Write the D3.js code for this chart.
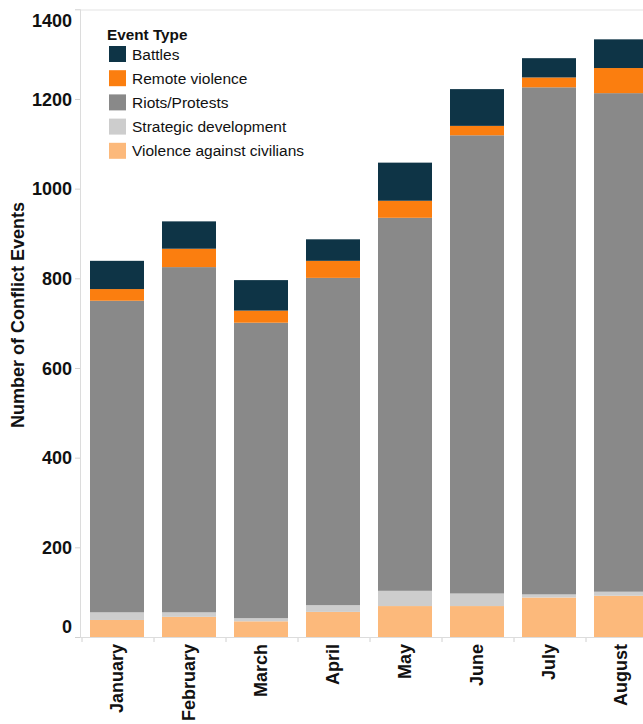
<!DOCTYPE html>
<html>
<head>
<meta charset="utf-8">
<script src="https://cdn.jsdelivr.net/npm/d3@7"></script>
<style>
  html, body { margin: 0; padding: 0; background: #fff; overflow: hidden; }
  svg { display: block; font-family: "Liberation Sans", Arial, sans-serif; }
</style>
</head>
<body>
<div id="chart"></div>
<script>
// months along the x axis
var months = ["January", "February", "March", "April", "May", "June", "July", "August"];

// event types, bottom of the stack first
var eventTypes = ["Violence against civilians", "Strategic development", "Riots/Protests", "Remote violence", "Battles"];
var legendOrder = ["Battles", "Remote violence", "Riots/Protests", "Strategic development", "Violence against civilians"];

// counts per month
var violenceCivilians = [38, 45, 35, 56, 69, 69, 88, 92];
var strategicDev      = [17, 10, 7, 15, 34, 28, 7, 9];
var riotsProtests     = [695, 770, 659, 730, 832, 1022, 1131, 1112];
var remoteViolence    = [26, 41, 27, 38, 38, 21, 22, 56];
var battles           = [63, 61, 68, 48, 85, 82, 43, 64];

var yTicks = [0, 200, 400, 600, 800, 1000, 1200, 1400];

var colors = {
  "Battles": "#0e3446",
  "Remote violence": "#fb7e0f",
  "Riots/Protests": "#898989",
  "Strategic development": "#cdcdcd",
  "Violence against civilians": "#fcb97b"
};

////////////////////////////////////////////////////////////////////////
// build table for d3.stack
////////////////////////////////////////////////////////////////////////
var table = months.map(function(m, i)
  {
  return {
    month: m,
    "Violence against civilians": violenceCivilians[i],
    "Strategic development": strategicDev[i],
    "Riots/Protests": riotsProtests[i],
    "Remote violence": remoteViolence[i],
    "Battles": battles[i]
  };
  });

var width = 643, height = 724;
var plotLeft = 80, plotBottom = 637, plotTop = 9.3;

var svg = d3.select("#chart")
  .append("svg")
  .attr("width", width)
  .attr("height", height);

var x = d3.scaleBand()
  .domain(months)
  .range([81, 81 + 72 * months.length])
  .paddingInner(0.25)
  .paddingOuter(0.125);

var y = d3.scaleLinear()
  .domain([0, 1400])
  .range([plotBottom, plotTop]);

// top border of the pane
svg.append("line")
  .attr("x1", plotLeft).attr("x2", width)
  .attr("y1", 10).attr("y2", 10)
  .attr("stroke", "#ececec").attr("stroke-width", 1.5);

// bars
var series = d3.stack().keys(eventTypes)(table);

svg.append("g")
  .selectAll("g")
  .data(series)
  .enter()
  .append("g")
  .attr("fill", function(d) { return colors[d.key]; })
  .selectAll("rect")
  .data(function(d) { return d; })
  .enter()
  .append("rect")
  .attr("x", function(d) { return x(d.data.month); })
  .attr("width", x.bandwidth())
  .attr("y", function(d) { return y(d[1]); })
  .attr("height", function(d) { return y(d[0]) - y(d[1]); });

// y axis
var yAxis = svg.append("g")
  .attr("transform", "translate(" + plotLeft + ",0)")
  .call(d3.axisLeft(y).tickValues(yTicks).tickSize(5).tickPadding(3).tickFormat(d3.format("d")));

yAxis.select(".domain").attr("stroke", "#dcdcdc").attr("d", "M0.5," + plotTop + "V" + plotBottom);
yAxis.selectAll(".tick line").attr("stroke", "#d0d0d0");
yAxis.selectAll(".tick text")
  .attr("fill", "#111")
  .style("font-size", "18px")
  .style("font-weight", "bold")
  .attr("dy", function(d)
    {
    // tableau keeps the end labels inside the pane
    if(d === 1400) return "0.95em";
    if(d === 0) return "-0.25em";
    return "0.34em";
    });

// x axis
var xAxis = svg.append("g")
  .attr("transform", "translate(0," + plotBottom + ")");

xAxis.append("line")
  .attr("x1", plotLeft).attr("x2", width)
  .attr("y1", 0.5).attr("y2", 0.5)
  .attr("stroke", "#dcdcdc");

xAxis.selectAll(".sep")
  .data(months)
  .enter()
  .append("line")
  .attr("class", "sep")
  .attr("x1", function(d) { return x(d) - x.step() * x.paddingInner() / 2 + 1; })
  .attr("x2", function(d) { return x(d) - x.step() * x.paddingInner() / 2 + 1; })
  .attr("y1", 1).attr("y2", 5)
  .attr("stroke", "#d0d0d0");

xAxis.selectAll(".mlabel")
  .data(months)
  .enter()
  .append("text")
  .attr("class", "mlabel")
  .attr("transform", function(d) { return "translate(" + (x(d) + x.bandwidth() / 2) + ",7) rotate(-90)"; })
  .attr("text-anchor", "end")
  .attr("dy", "0.36em")
  .attr("fill", "#111")
  .style("font-size", "18px")
  .style("font-weight", "bold")
  .text(function(d) { return d; });

// y axis title
svg.append("text")
  .attr("transform", "translate(18,315) rotate(-90)")
  .attr("text-anchor", "middle")
  .attr("dy", "0.36em")
  .attr("fill", "#111")
  .style("font-size", "18px")
  .style("font-weight", "bold")
  .text("Number of Conflict Events");

// legend
var legend = svg.append("g").attr("transform", "translate(107,0)");

legend.append("text")
  .attr("x", 0).attr("y", 40)
  .attr("fill", "#111")
  .style("font-size", "15.3px")
  .style("font-weight", "bold")
  .text("Event Type");

var rows = legend.selectAll(".row")
  .data(legendOrder)
  .enter()
  .append("g")
  .attr("class", "row")
  .attr("transform", function(d, i) { return "translate(0," + (46 + i * 24.2) + ")"; });

rows.append("rect")
  .attr("x", 2).attr("y", 0)
  .attr("width", 17).attr("height", 16)
  .attr("fill", function(d) { return colors[d]; });

rows.append("text")
  .attr("x", 25).attr("y", 8)
  .attr("dy", "0.36em")
  .attr("fill", "#111")
  .style("font-size", "15.5px")
  .text(function(d) { return d; });
</script>
</body>
</html>
